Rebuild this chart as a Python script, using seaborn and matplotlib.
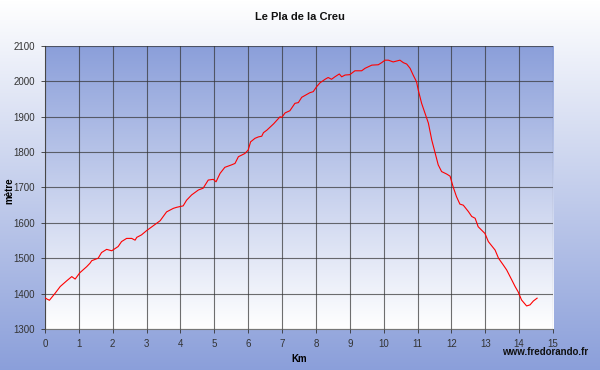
import numpy as np
import matplotlib
matplotlib.use('Agg')
import matplotlib.pyplot as plt
import seaborn as sns
import pandas as pd
from matplotlib.colors import LinearSegmentedColormap

# Profile (km, altitude in metres)
km = [0.00, 0.05, 0.13, 0.30, 0.45, 0.64, 0.79, 0.89, 1.03, 1.23, 1.33, 1.38,
      1.57, 1.67, 1.82, 1.97, 2.16, 2.26, 2.41, 2.56, 2.66, 2.71, 2.85, 3.00,
      3.20, 3.40, 3.59, 3.79, 3.89, 4.08, 4.18, 4.33, 4.53, 4.67, 4.82, 4.97,
      5.05, 5.17, 5.31, 5.51, 5.61, 5.71, 5.90, 6.00, 6.07, 6.20, 6.30, 6.40,
      6.45, 6.55, 6.75, 6.94, 6.99, 7.09, 7.23, 7.38, 7.48, 7.58, 7.82, 7.92,
      8.02, 8.12, 8.27, 8.36, 8.46, 8.56, 8.69, 8.76, 8.86, 9.00, 9.15, 9.35,
      9.45, 9.65, 9.84, 9.94, 10.04, 10.14, 10.28, 10.48, 10.58, 10.68, 10.78,
      10.87, 10.97, 11.02, 11.12, 11.22, 11.32, 11.42, 11.51, 11.61, 11.71,
      11.86, 11.96, 12.05, 12.15, 12.25, 12.35, 12.50, 12.60, 12.70, 12.79,
      12.99, 13.09, 13.29, 13.39, 13.53, 13.63, 13.78, 13.88, 13.97, 14.07,
      14.22, 14.32, 14.42, 14.53]
alt = [1388, 1385, 1381, 1401, 1420, 1436, 1448, 1441, 1459, 1476, 1486, 1493,
       1500, 1516, 1525, 1521, 1533, 1547, 1556, 1556, 1551, 1559, 1566, 1578,
       1592, 1606, 1631, 1641, 1644, 1648, 1664, 1679, 1693, 1698, 1721, 1723,
       1716, 1740, 1757, 1764, 1768, 1787, 1796, 1806, 1829, 1839, 1843, 1845,
       1855, 1862, 1880, 1900, 1898, 1911, 1917, 1938, 1940, 1955, 1968, 1971,
       1985, 1996, 2006, 2011, 2006, 2013, 2021, 2013, 2018, 2019, 2030, 2030,
       2037, 2046, 2047, 2053, 2060, 2060, 2055, 2060, 2053, 2049, 2037,
       2018, 1999, 1976, 1938, 1910, 1882, 1834, 1801, 1764, 1745,
       1738, 1732, 1702, 1674, 1653, 1650, 1632, 1618, 1613, 1589,
       1570, 1547, 1523, 1500, 1481, 1467, 1439, 1420, 1405, 1382,
       1365, 1368, 1379, 1387]

x_ticks = list(range(0, 16))
y_ticks = list(range(1300, 2101, 100))

df = pd.DataFrame({'km': km, 'alt': alt})

blue = (0.545, 0.624, 0.855)
grad = LinearSegmentedColormap.from_list('g', ['white', blue])

fig = plt.figure(figsize=(6, 3.7), dpi=100)

# figure background: white at top, blue at bottom
bg = fig.add_axes([0, 0, 1, 1], zorder=-10)
bg.imshow(np.linspace(0, 1, 256).reshape(-1, 1), cmap=grad, aspect='auto',
          extent=[0, 1, 0, 1], origin='upper')
bg.axis('off')

ax = fig.add_axes([0.075, 0.111, 0.8467, 0.7646])
# plot area: blue at top, white at bottom
ax.imshow(np.linspace(1, 0, 256).reshape(-1, 1), cmap=grad, aspect='auto',
          extent=[0, 15, 1300, 2100], origin='upper', zorder=0)

sns.lineplot(data=df, x='km', y='alt', ax=ax, color='red', linewidth=0.8,
             zorder=3)

ax.set_xlim(0, 15)
ax.set_ylim(1300, 2100)
ax.set_xticks(x_ticks)
ax.set_yticks(y_ticks)
ax.grid(True, color='#333333', linewidth=0.8, alpha=0.7, zorder=1)
ax.set_axisbelow(False)
for s in ['top', 'right']:
    ax.spines[s].set_visible(False)
for s in ['left', 'bottom']:
    ax.spines[s].set_color('#777777')
    ax.spines[s].set_linewidth(0.8)

ax.tick_params(axis='both', labelsize=7, colors='#333333', length=3,
               width=0.6, pad=4)
for lab in ax.get_xticklabels() + ax.get_yticklabels():
    lab.set_family('Liberation Sans')

ax.set_xlabel('Km', fontsize=7, fontweight='bold', family='Liberation Sans')
ax.set_ylabel('mètre', fontsize=7, fontweight='bold', family='Liberation Sans')
ax.xaxis.set_label_coords(0.5, -0.09)
ax.yaxis.set_label_coords(-0.061, 0.49)
fig.text(0.5, 0.955, 'Le Pla de la Creu', ha='center', va='center',
         fontsize=8, fontweight='bold', family='Liberation Sans', color='#111111')
fig.text(0.98, 0.048, 'www.fredorando.fr', ha='right', va='center',
         fontsize=7, fontweight='bold', family='Liberation Sans', color='#111111')

fig.savefig('out.png', dpi=100)
